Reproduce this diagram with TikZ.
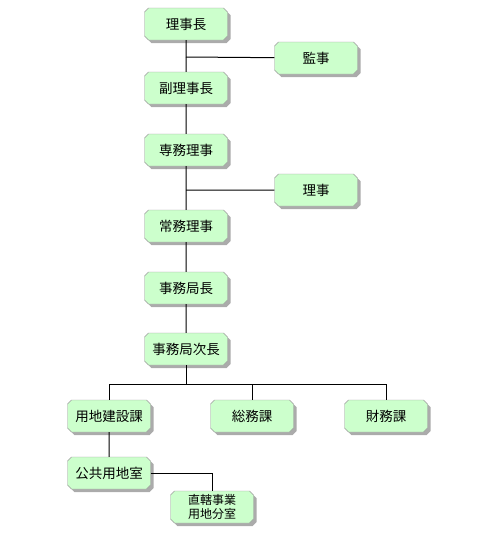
\documentclass[tikz,border=0pt]{standalone}
\usepackage{fontspec}
\newfontfamily\jpfont{Noto Sans CJK JP}
\usetikzlibrary{shapes.misc,shadows}
\definecolor{boxfill}{HTML}{CCFFCC}
\definecolor{boxline}{HTML}{999999}
\begin{document}
\begin{tikzpicture}[
    x=1pt, y=-1pt,
    post/.style={chamfered rectangle, chamfered rectangle xsep=2pt,
                 chamfered rectangle ysep=2pt,
                 draw=boxline, fill=boxfill, minimum width=83pt,
                 minimum height=32pt, inner sep=1pt, align=center,
                 font=\jpfont\fontsize{13.5}{14}\selectfont,
                 drop shadow={shadow xshift=3pt, shadow yshift=-3pt,
                              fill=black!55, opacity=0.6}},
    link/.style={draw=black, line width=1pt}
]
\useasboundingbox (0,0) rectangle (480,550);

\node[post] (chief)    at (186, 24)  {理事長};
\node[post] (auditor)  at (316, 58)  {監事};
\node[post] (vice)     at (186, 88)  {副理事長};
\node[post] (senior)   at (186,150)  {専務理事};
\node[post] (director) at (316,190)  {理事};
\node[post] (standing) at (186,226)  {常務理事};
\node[post] (secgen)   at (186,288)  {事務局長};
\node[post] (deputy)   at (186,349)  {事務局次長};
\node[post] (landdev)  at (109,416)  {用地建設課};
\node[post] (general)  at (252,416)  {総務課};
\node[post] (finance)  at (386,416)  {財務課};
\node[post] (publand)  at (109,473)  {公共用地室};
\node[post, font=\jpfont\fontsize{12}{13.5}\selectfont]
            (branch)   at (212,507)  {直轄事業\\用地分室};

\coordinate (tap1) at (186, 57);
\coordinate (tap2) at (186,190);
\coordinate (bus)  at (186,384);

\draw[link] (chief)    -- (vice);
\draw[link] (tap1)     -- (auditor);
\draw[link] (vice)     -- (senior);
\draw[link] (senior)   -- (standing);
\draw[link] (tap2)     -- (director);
\draw[link] (standing) -- (secgen);
\draw[link] (secgen)   -- (deputy);
\draw[link] (deputy)   -- (bus);
\draw[link] (bus)      -| (landdev);
\draw[link] (bus)      -| (general);
\draw[link] (bus)      -| (finance);
\draw[link] (landdev)  -- (publand);
\draw[link] (publand)  -| (branch);
\end{tikzpicture}
\end{document}
